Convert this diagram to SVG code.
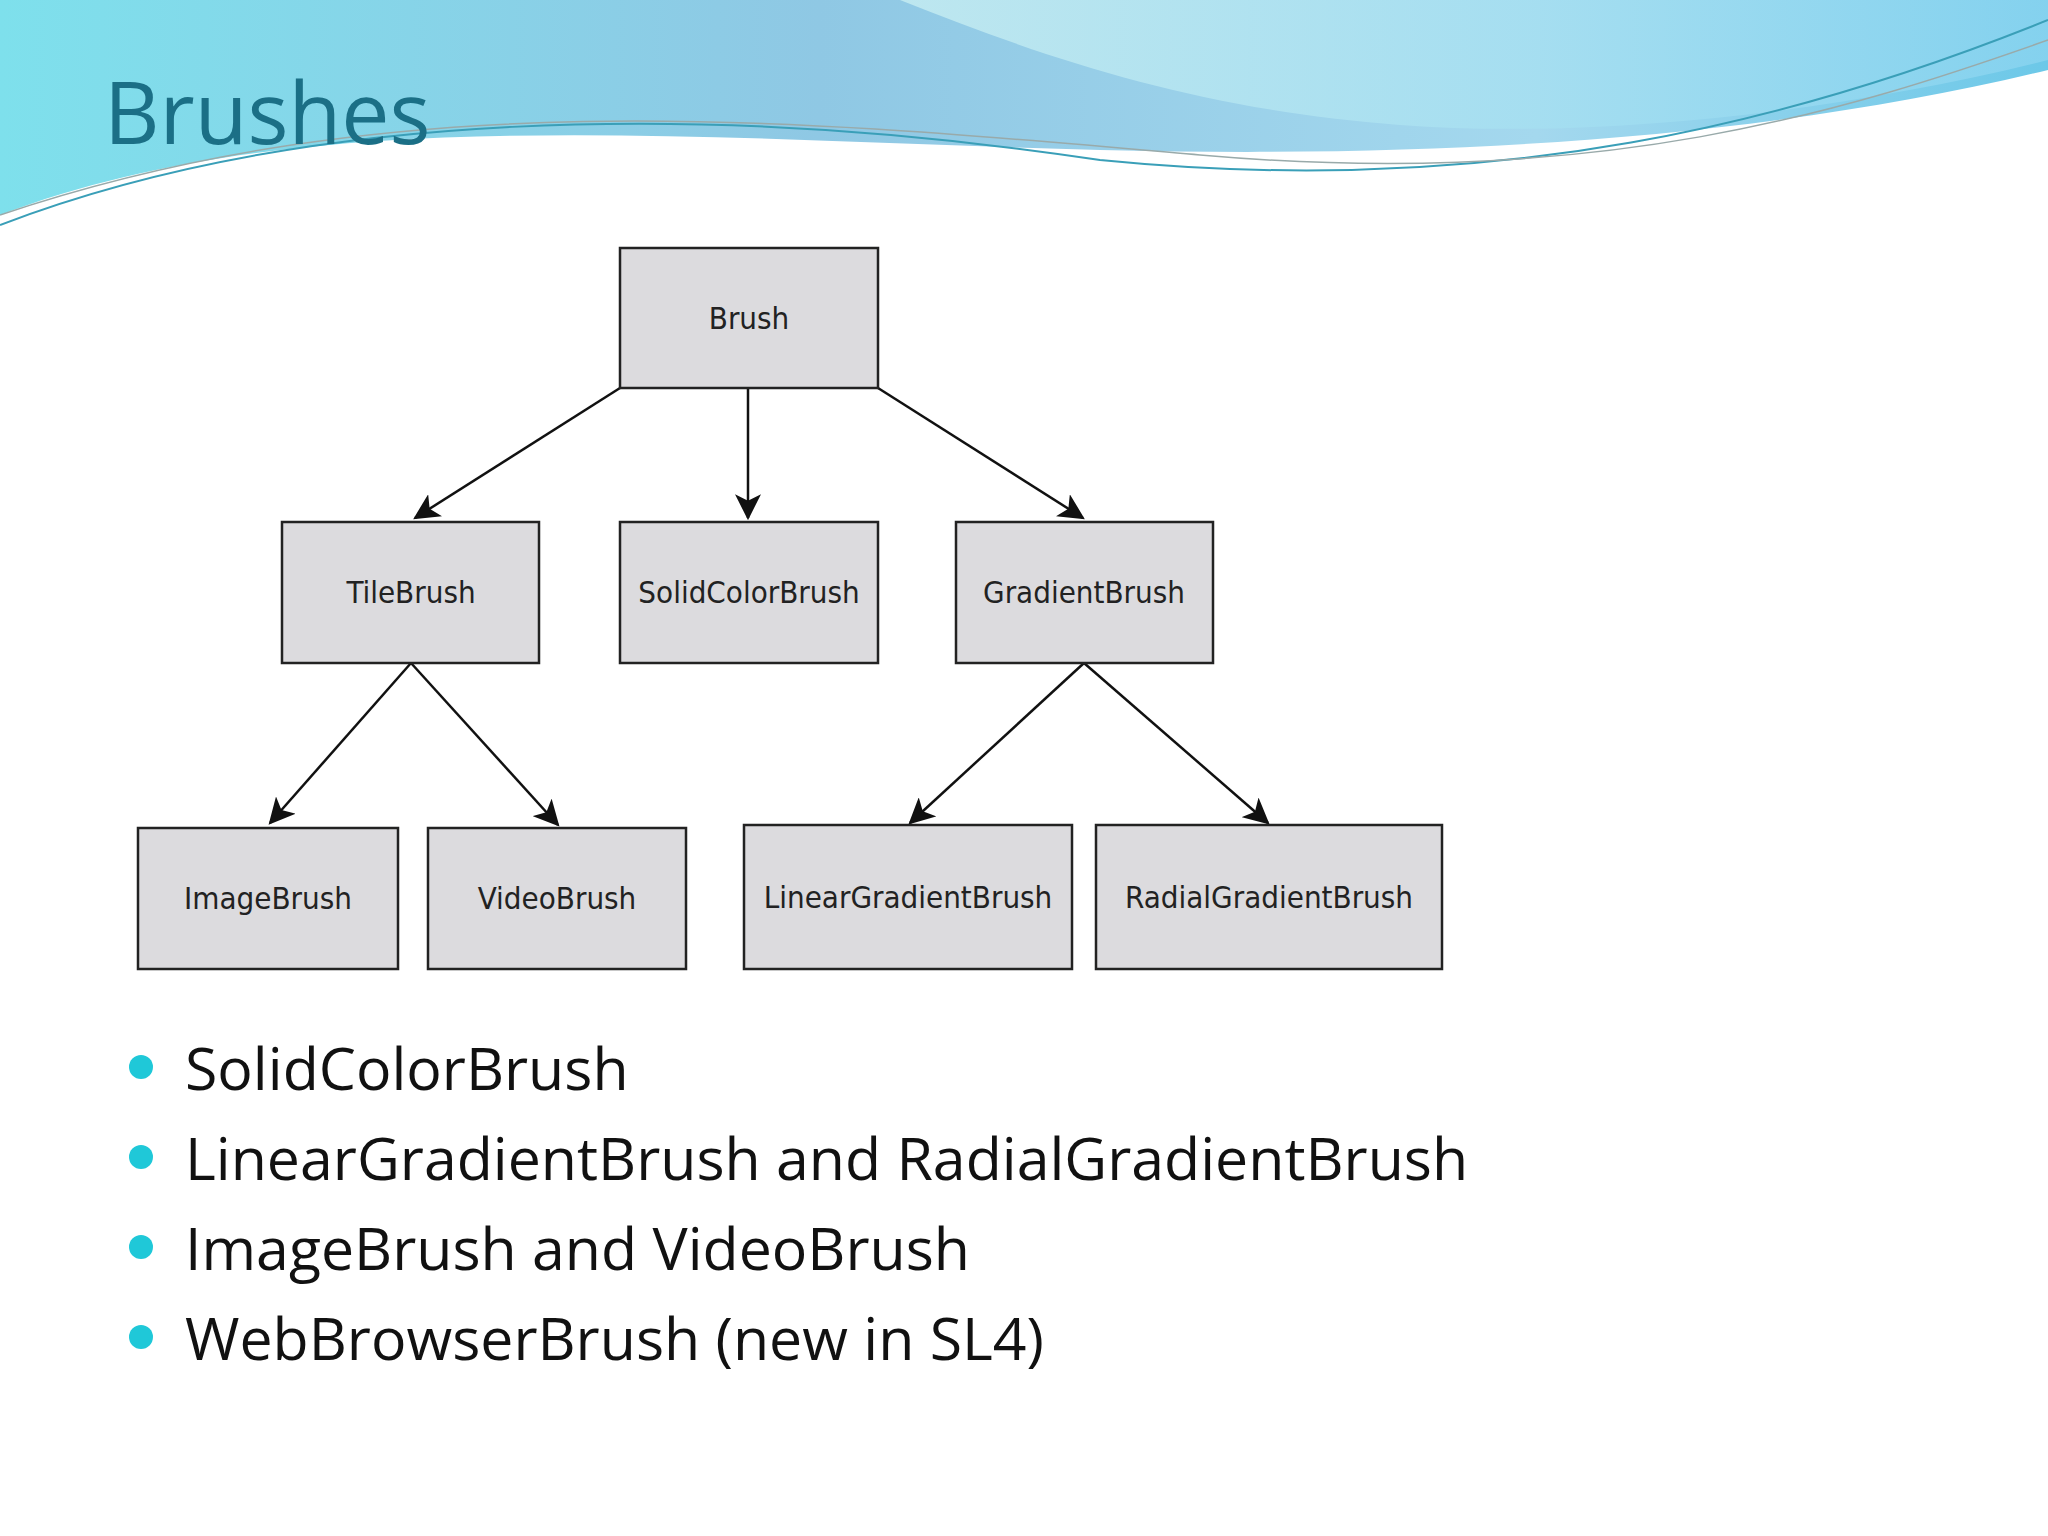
<svg xmlns="http://www.w3.org/2000/svg" width="2048" height="1536" viewBox="0 0 2048 1536">
<defs>
<linearGradient id="sky" x1="0" y1="0" x2="1" y2="0">
<stop offset="0" stop-color="#7ee0ec"/><stop offset="0.4" stop-color="#8fc8e4"/><stop offset="0.75" stop-color="#a4d8ee"/><stop offset="1" stop-color="#6cc8e8"/>
</linearGradient>
<linearGradient id="sky2" x1="0" y1="0" x2="1" y2="0">
<stop offset="0" stop-color="#c8eef2"/><stop offset="1" stop-color="#8ad4f0"/>
</linearGradient>
<marker id="ah" viewBox="0 0 12 12" refX="11" refY="6" markerWidth="26" markerHeight="26" orient="auto" markerUnits="userSpaceOnUse">
<path d="M0,0 L12,6 L0,12 L3,6 Z" fill="#111"/>
</marker>
<style>
.box{fill:#dcdbde;stroke:#222;stroke-width:2.5}
.bt{font-family:"DejaVu Sans Condensed","DejaVu Sans",sans-serif;font-stretch:condensed;font-size:31px;fill:#222;text-anchor:middle;dominant-baseline:central}
.con line{stroke:#111;stroke-width:2.5;marker-end:url(#ah)}
.bl{font-family:"Open Sans","Noto Sans",sans-serif;font-size:59px;fill:#111}
.dot{fill:#1fc8d8}
</style>
</defs>
<rect width="2048" height="1536" fill="#fff"/>
<path d="M0,0 H2048 V70 C1800,130 1500,160 1100,150 C700,140 300,100 0,215 Z" fill="url(#sky)"/>
<path d="M900,0 H2048 V60 C1850,110 1600,140 1400,125 C1200,110 1050,60 900,0 Z" fill="url(#sky2)" opacity="0.8"/>
<path d="M0,225 C300,110 700,100 1100,160 C1500,200 1800,120 2048,20" fill="none" stroke="#3a9fb8" stroke-width="2"/>
<path d="M0,215 C400,80 800,120 1200,155 C1600,190 1850,110 2048,40" fill="none" stroke="#9aa" stroke-width="1.5"/>
<text x="104" y="144" font-family="Open Sans, Noto Sans, sans-serif" font-size="86" fill="#1b6f86">Brushes</text>
<g class="con">
<line x1="620" y1="388" x2="415" y2="518"/>
<line x1="748" y1="388" x2="748" y2="518"/>
<line x1="878" y1="388" x2="1083" y2="518"/>
<line x1="411" y1="663" x2="270" y2="823"/>
<line x1="411" y1="663" x2="558" y2="825"/>
<line x1="1084" y1="663" x2="910" y2="823"/>
<line x1="1084" y1="663" x2="1268" y2="823"/>
</g>
<g id="brush"><rect class="box" x="620" y="248" width="258" height="140"/><text class="bt" x="749" y="318">Brush</text></g>
<g id="tilebrush"><rect class="box" x="282" y="522" width="257" height="141"/><text class="bt" x="411" y="592">TileBrush</text></g>
<g id="solidcolorbrush"><rect class="box" x="620" y="522" width="258" height="141"/><text class="bt" x="749" y="592">SolidColorBrush</text></g>
<g id="gradientbrush"><rect class="box" x="956" y="522" width="257" height="141"/><text class="bt" x="1084" y="592">GradientBrush</text></g>
<g id="imagebrush"><rect class="box" x="138" y="828" width="260" height="141"/><text class="bt" x="268" y="898">ImageBrush</text></g>
<g id="videobrush"><rect class="box" x="428" y="828" width="258" height="141"/><text class="bt" x="557" y="898">VideoBrush</text></g>
<g id="lineargradientbrush"><rect class="box" x="744" y="825" width="328" height="144"/><text class="bt" x="908" y="897">LinearGradientBrush</text></g>
<g id="radialgradientbrush"><rect class="box" x="1096" y="825" width="346" height="144"/><text class="bt" x="1269" y="897">RadialGradientBrush</text></g>
<circle class="dot" cx="141" cy="1067" r="12"/>
<circle class="dot" cx="141" cy="1157" r="12"/>
<circle class="dot" cx="141" cy="1247" r="12"/>
<circle class="dot" cx="141" cy="1337" r="12"/>
<text class="bl" x="185" y="1090">SolidColorBrush</text>
<text class="bl" x="185" y="1180">LinearGradientBrush and RadialGradientBrush</text>
<text class="bl" x="185" y="1270">ImageBrush and VideoBrush</text>
<text class="bl" x="185" y="1360">WebBrowserBrush (new in SL4)</text>
</svg>
